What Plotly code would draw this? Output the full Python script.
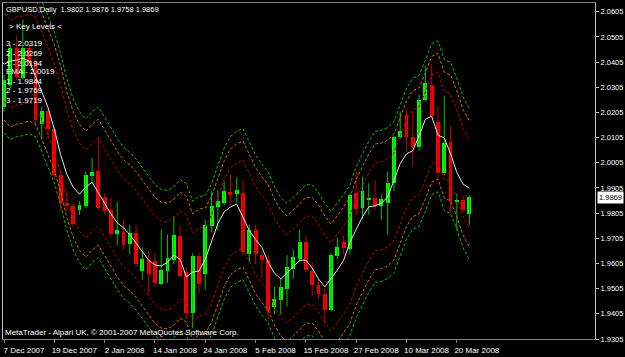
import plotly.graph_objects as go

# ---------------- data ----------------
symbol = "GBPUSD,Daily"

open_ = [2.0225, 2.0315, 2.0460, 2.0343, 2.0460, 2.0405, 2.0159, 2.0209, 2.0139, 1.9955,
         1.9845, 1.9834, 1.9818, 1.9834, 1.9951, 1.9974, 1.9869, 1.9818, 1.9724, 1.9732,
         1.9681, 1.9728, 1.9575, 1.9618, 1.9614, 1.9524, 1.9575, 1.9618, 1.9716, 1.9571,
         1.9407, 1.9634, 1.9563, 1.9755, 1.9830, 1.9845, 1.9888, 1.9880, 1.9884, 1.9642,
         1.9740, 1.9638, 1.9618, 1.9434, 1.9458, 1.9505, 1.9583, 1.9622, 1.9689, 1.9575,
         1.9520, 1.9485, 1.9422, 1.9634, 1.9689, 1.9661, 1.9884, 1.9826, 1.9857, 1.9865,
         1.9834, 1.9845, 1.9924, 2.0108, 2.0194, 2.0108, 2.0068, 2.0256, 2.0315, 2.0166,
         1.9963, 2.0088, 1.9853, 1.9857, 1.9802]
high = [2.0354, 2.0472, 2.0511, 2.0574, 2.0476, 2.0421, 2.0229, 2.0225, 2.0147, 1.9974,
        1.9892, 1.9845, 1.9853, 1.9971, 2.0025, 2.0108, 1.9884, 1.9865, 1.9849, 1.9779,
        1.9759, 1.9759, 1.9669, 1.9657, 1.9646, 1.9740, 1.9720, 1.9794, 1.9755, 1.9591,
        1.9646, 1.9646, 1.9779, 1.9892, 1.9896, 1.9931, 1.9959, 1.9947, 1.9935, 1.9759,
        1.9759, 1.9657, 1.9638, 1.9512, 1.9544, 1.9638, 1.9661, 1.9740, 1.9716, 1.9610,
        1.9544, 1.9505, 1.9646, 1.9708, 1.9716, 1.9884, 1.9971, 1.9951, 1.9924, 1.9935,
        1.9880, 1.9971, 2.0112, 2.0209, 2.0217, 2.0209, 2.0276, 2.0390, 2.0397, 2.0229,
        2.0272, 2.0151, 1.9884, 1.9873, 1.9876]
low = [2.0209, 2.0303, 2.0335, 2.0335, 2.0390, 2.0151, 2.0100, 2.0100, 1.9939, 1.9814,
       1.9810, 1.9751, 1.9798, 1.9826, 1.9924, 1.9818, 1.9802, 1.9708, 1.9677, 1.9661,
       1.9642, 1.9591, 1.9540, 1.9485, 1.9512, 1.9520, 1.9528, 1.9602, 1.9552, 1.9383,
       1.9348, 1.9485, 1.9501, 1.9728, 1.9736, 1.9837, 1.9837, 1.9845, 1.9638, 1.9610,
       1.9602, 1.9544, 1.9383, 1.9403, 1.9403, 1.9434, 1.9544, 1.9610, 1.9571, 1.9473,
       1.9465, 1.9364, 1.9415, 1.9622, 1.9642, 1.9642, 1.9798, 1.9783, 1.9798, 1.9818,
       1.9779, 1.9720, 1.9892, 2.0100, 2.0049, 1.9990, 2.0053, 2.0249, 2.0186, 1.9943,
       1.9955, 1.9806, 1.9736, 1.9814, 1.9758]
close = [2.0335, 2.0460, 2.0347, 2.0460, 2.0405, 2.0174, 2.0209, 2.0139, 1.9955, 1.9845,
         1.9834, 1.9763, 1.9837, 1.9955, 1.9967, 1.9826, 1.9814, 1.9724, 1.9740, 1.9677,
         1.9728, 1.9602, 1.9622, 1.9563, 1.9528, 1.9579, 1.9626, 1.9720, 1.9555, 1.9407,
         1.9634, 1.9524, 1.9759, 1.9834, 1.9853, 1.9892, 1.9876, 1.9896, 1.9649, 1.9740,
         1.9642, 1.9618, 1.9415, 1.9462, 1.9512, 1.9591, 1.9630, 1.9689, 1.9579, 1.9520,
         1.9485, 1.9422, 1.9638, 1.9669, 1.9665, 1.9876, 1.9822, 1.9892, 1.9865, 1.9834,
         1.9861, 1.9924, 2.0108, 2.0131, 2.0108, 2.0068, 2.0256, 2.0323, 2.0190, 1.9963,
         2.0084, 1.9853, 1.9857, 1.9818, 1.9869]

# EMA values from bar -1 to bar 74 (white line)
ema = [2.0425, 2.0397, 2.0409, 2.0413, 2.0421, 2.0409, 2.0350, 2.0288, 2.0225, 2.0139,
       2.0037, 1.9959, 1.9908, 1.9880, 1.9908, 1.9928, 1.9884, 1.9845, 1.9802, 1.9767,
       1.9747, 1.9720, 1.9685, 1.9649, 1.9618, 1.9599, 1.9595, 1.9610, 1.9638, 1.9622,
       1.9552, 1.9571, 1.9575, 1.9622, 1.9696, 1.9763, 1.9810, 1.9830, 1.9841, 1.9787,
       1.9736, 1.9700, 1.9669, 1.9610, 1.9567, 1.9544, 1.9567, 1.9591, 1.9618, 1.9618,
       1.9587, 1.9544, 1.9512, 1.9544, 1.9579, 1.9618, 1.9689, 1.9740, 1.9790, 1.9830,
       1.9834, 1.9845, 1.9869, 1.9935, 2.0002, 2.0041, 2.0053, 2.0112, 2.0178, 2.0190,
       2.0115, 2.0104, 2.0041, 1.9967, 1.9920, 1.9904]

# Key levels panel
level_names = ["3", "2", "1", "EMA", "1", "2", "3"]
level_values = [2.0319, 2.0269, 2.0194, 2.0019, 1.9844, 1.9769, 1.9719]

tick_idx = [0, 8, 16, 24, 32, 40, 48, 56, 64, 72]
tick_text = ["7 Dec 2007", "19 Dec 2007", "2 Jan 2008", "14 Jan 2008", "24 Jan 2008",
             "5 Feb 2008", "15 Feb 2008", "27 Feb 2008", "10 Mar 2008", "20 Mar 2008"]

price_ticks = [1.9305 + 0.01 * k for k in range(14)]

copyright_text = "MetaTrader - Alpari UK, © 2001-2007 MetaQuotes Software Corp."

# ---------------- styles ----------------
UP = "#00ff00"
DOWN = "#ff0000"
UP_WICK = "#00c000"
DOWN_WICK = "#c00000"
FONT = "Liberation Sans"
TXT = 8

n = len(close)
idx = list(range(n))
ema_x = list(range(-1, n))

fig = go.Figure()

# wicks
for is_up, col in ((True, UP_WICK), (False, DOWN_WICK)):
    wx, wy = [], []
    for i in idx:
        if (close[i] >= open_[i]) == is_up:
            wx += [i, i, None]
            wy += [low[i], high[i], None]
    fig.add_trace(go.Scatter(x=wx, y=wy, mode="lines", line=dict(color=col, width=1),
                             hoverinfo="skip"))

# bodies
fig.add_trace(go.Bar(
    x=idx, y=[c - o for o, c in zip(open_, close)], base=open_, width=0.62,
    marker=dict(color=[UP if c >= o else DOWN for o, c in zip(open_, close)], line_width=0),
    hoverinfo="skip"))

# bands around the EMA, offsets taken from the key levels
ema_level = level_values[3]
offsets = [(level_values[2] - ema_level, "#c00000"),
           (level_values[1] - ema_level, "#d07000"),
           (level_values[0] - ema_level, "#00c000")]
band_x = idx
band_c = ema[:n]
for off, col in offsets:
    for sgn in (1, -1):
        fig.add_trace(go.Scatter(x=band_x, y=[v + sgn * off for v in band_c], mode="lines",
                                 line=dict(color=col, width=1, dash="3px,2px"),
                                 hoverinfo="skip"))

# EMA line
fig.add_trace(go.Scatter(x=ema_x, y=ema, mode="lines",
                         line=dict(color="#e6e6e6", width=1), hoverinfo="skip"))

# ---------------- text ----------------
def px_x(x):
    return (x - 2) / 593.0

def px_y(y):
    return (343 - y) / 341.0

ann = []
ann.append(dict(text=f"{symbol}  {open_[-1]:.4f} {high[-1]:.4f} {low[-1]:.4f} {close[-1]:.4f}",
                x=px_x(4), y=px_y(9), font=dict(family=FONT, size=7.5, color="#ffffff")))
ann.append(dict(text="> Key Levels <", x=px_x(7), y=px_y(26)))
for k, (nm, v) in enumerate(zip(level_names, level_values)):
    ann.append(dict(text=f"{nm} - {v:.4f}", x=px_x(4), y=px_y([43, 53, 63, 72, 82, 91, 101][k])))
ann.append(dict(text=copyright_text, x=px_x(3), y=px_y(336)))
annotations = []
for a in ann:
    a.setdefault("font", dict(family=FONT, size=TXT, color="#ffffff"))
    a.update(xref="paper", yref="paper", xanchor="left", yanchor="middle", showarrow=False,
             borderpad=0)
    annotations.append(a)

annotations.append(dict(text=f"{close[-1]:.4f}", xref="paper", yref="y", x=1, y=close[-1],
                        xanchor="left", yanchor="middle", xshift=2, showarrow=False,
                        bgcolor="#ffffff", font=dict(family=FONT, size=7.5, color="#000000"),
                        borderpad=1))

fig.update_layout(
    width=625, height=357,
    margin=dict(l=2, r=30, t=2, b=14),
    paper_bgcolor="#000000", plot_bgcolor="#000000",
    showlegend=False, bargap=0,
    font=dict(family=FONT, size=TXT, color="#ffffff"),
    annotations=annotations,
    xaxis=dict(range=[-0.16, 93.97], showgrid=False, zeroline=False,
               showline=True, linecolor="#808080", linewidth=1, mirror=True,
               ticks="outside", ticklen=3, tickcolor="#808080",
               tickvals=tick_idx, ticktext=tick_text, ticklabelshift=20,
               ticklabelstandoff=0,
               tickfont=dict(family=FONT, size=TXT, color="#ffffff")),
    yaxis=dict(range=[1.9305, 2.0640], side="right", showgrid=False, zeroline=False,
               showline=True, linecolor="#c0c0c0", linewidth=1, mirror=True,
               ticks="outside", ticklen=3, tickcolor="#c0c0c0",
               tickvals=price_ticks, ticktext=[f"{v:.4f}" for v in price_ticks],
               tickfont=dict(family=FONT, size=7.5, color="#ffffff")),
)

fig.write_html("out.html")
